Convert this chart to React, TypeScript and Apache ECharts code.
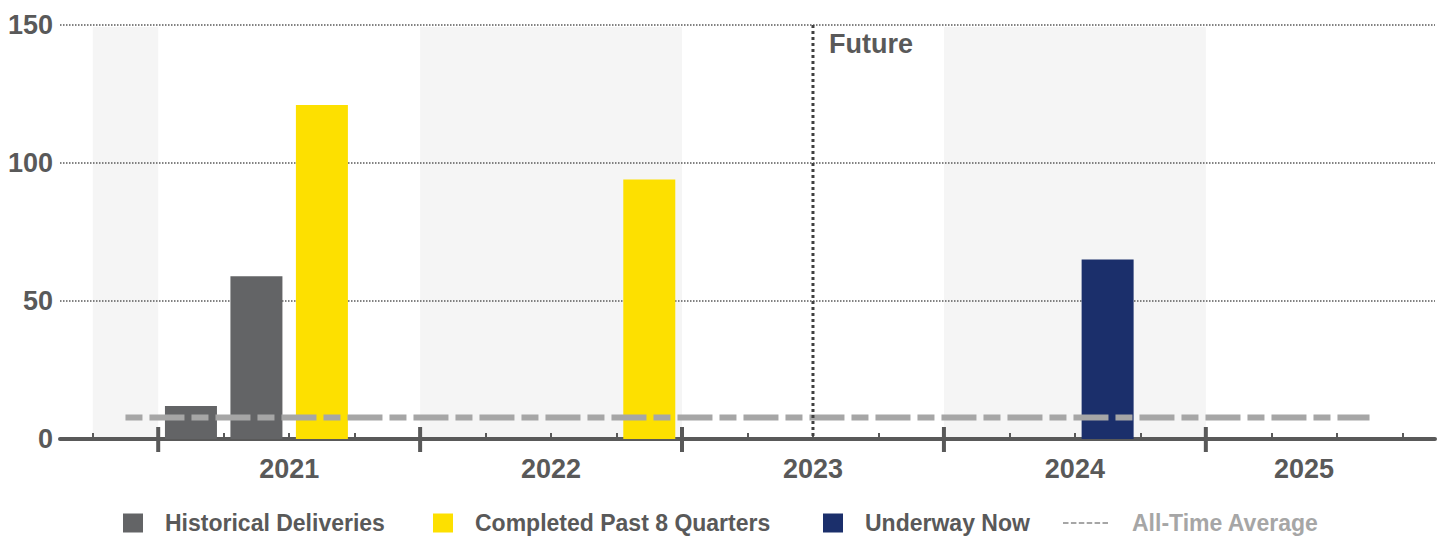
import React, { useEffect, useRef } from 'react';
import * as echarts from 'echarts';

// ---------- DATA ----------
const quarters = [
  '2020 Q4',
  '2021 Q1', '2021 Q2', '2021 Q3', '2021 Q4',
  '2022 Q1', '2022 Q2', '2022 Q3', '2022 Q4',
  '2023 Q1', '2023 Q2', '2023 Q3', '2023 Q4',
  '2024 Q1', '2024 Q2', '2024 Q3', '2024 Q4',
  '2025 Q1', '2025 Q2', '2025 Q3',
];
const historicalDeliveries: (number | null)[] = [
  null, 12, 59, null, null, null, null, null, null, null,
  null, null, null, null, null, null, null, null, null, null,
];
const completedPast8Quarters: (number | null)[] = [
  null, null, null, 121, null, null, null, null, 94, null,
  null, null, null, null, null, null, null, null, null, null,
];
const underwayNow: (number | null)[] = [
  null, null, null, null, null, null, null, null, null, null,
  null, null, null, null, null, 65, null, null, null, null,
];
const allTimeAverage = 7.8;
const labeledYears = ['2021', '2022', '2023', '2024', '2025'];
const shadedYears = ['2020', '2022', '2024'];
const futureStartQuarter = '2023 Q3';
const futureLabel = 'Future';
const yMin = 0;
const yMax = 150;
const yInterval = 50;

const SERIES_NAMES = ['Historical Deliveries', 'Completed Past 8 Quarters', 'Underway Now', 'All-Time Average'];

// ---------- DERIVED ----------
const yearOf = (q: string) => q.slice(0, 4);
const yearSpan = (y: string) => {
  const idx = quarters.map((q, i) => (yearOf(q) === y ? i : -1)).filter((i) => i >= 0);
  return [idx[0], idx[idx.length - 1]];
};
const yearCenters = labeledYears.map((y) => {
  const [a, b] = yearSpan(y);
  return (a + b) / 2;
});
const allYears = Array.from(new Set(quarters.map(yearOf)));
const majorTicks = allYears.slice(1).map((y) => yearSpan(y)[0] - 0.5);
const allBoundaries = quarters.map((_, i) => i - 0.5).concat([quarters.length - 0.5]);
const minorTicks = allBoundaries.filter((b) => !majorTicks.includes(b));
const bands = shadedYears.map((y) => {
  const [a, b] = yearSpan(y);
  return [a - 0.5, b + 0.5];
});
const futureX = quarters.indexOf(futureStartQuarter) - 0.5;

const toPoints = (arr: (number | null)[]) =>
  arr.map((v, i) => (v == null ? null : [i, v])).filter((p) => p !== null) as number[][];

const FONT = '"Liberation Sans", Arial, Helvetica, sans-serif';
const TEXT = '#595959';

const dashIcon =
  'path://M0 0H5.5V2H0Z M7.9 0H13.4V2H7.9Z M15.8 0H21.3V2H15.8Z M23.7 0H29.2V2H23.7Z M31.6 0H37.1V2H31.6Z M39.5 0H45V2H39.5Z';

export default function App() {
  const ref = useRef<HTMLDivElement>(null);

  useEffect(() => {
    if (!ref.current) return;
    const chart = echarts.init(ref.current, undefined, { renderer: 'svg' });

    const legendCommon = {
      top: 511,
      padding: 0,
      itemHeight: 19,
      selectedMode: false,
      textStyle: {
        fontSize: 23,
        lineHeight: 24,
        fontWeight: 'bold',
        color: TEXT,
        fontFamily: FONT,
        padding: [0, 0, 0, 17],
      },
    };

    const option: any = {
      animation: false,
      backgroundColor: '#ffffff',
      grid: { left: 60, right: 10, top: 25, bottom: 98, containLabel: false },
      legend: [
        { ...legendCommon, left: 123, itemWidth: 20, data: [{ name: SERIES_NAMES[0], icon: 'rect' }] },
        { ...legendCommon, left: 433, itemWidth: 20, data: [{ name: SERIES_NAMES[1], icon: 'rect' }] },
        { ...legendCommon, left: 823, itemWidth: 20, data: [{ name: SERIES_NAMES[2], icon: 'rect' }] },
        {
          ...legendCommon,
          left: 1063,
          itemWidth: 45,
          textStyle: { ...legendCommon.textStyle, color: '#a6a6a6', padding: [0, 0, 0, 19] },
          data: [
            {
              name: SERIES_NAMES[3],
              icon: dashIcon,
              itemStyle: { color: '#a6a6a6', borderWidth: 0 },
            },
          ],
        },
      ],
      xAxis: {
        type: 'value',
        min: -1,
        max: quarters.length,
        axisLine: { show: true, onZero: false, lineStyle: { color: TEXT, width: 4 } },
        axisTick: {
          show: true,
          inside: true,
          length: 6,
          lineStyle: { color: TEXT, width: 2 },
          customValues: minorTicks,
        },
        axisLabel: {
          show: true,
          customValues: yearCenters,
          formatter: (v: number) => {
            const i = yearCenters.findIndex((c) => Math.abs(c - v) < 1e-6);
            return i >= 0 ? labeledYears[i] : '';
          },
          fontSize: 27,
          fontWeight: 'bold',
          color: TEXT,
          fontFamily: FONT,
          margin: 16,
        },
        splitLine: { show: false },
      },
      yAxis: {
        type: 'value',
        min: yMin,
        max: yMax,
        interval: yInterval,
        axisLine: { show: false },
        axisTick: { show: false },
        axisLabel: { fontSize: 27, fontWeight: 'bold', color: TEXT, fontFamily: FONT, margin: 7 },
        splitLine: { show: true, lineStyle: { type: 'dotted', color: TEXT, width: 1.5 } },
      },
      series: [
        {
          name: 'bands',
          type: 'custom',
          z: -1,
          silent: true,
          data: bands,
          encode: { x: [0, 1] },
          renderItem: (params: any, api: any) => {
            const p1 = api.coord([api.value(0), yMax]);
            const p2 = api.coord([api.value(1), yMin]);
            return {
              type: 'rect',
              shape: { x: p1[0], y: p1[1] + 2, width: p2[0] - p1[0], height: p2[1] - p1[1] - 2 },
              style: { fill: '#f5f5f5' },
            };
          },
        },
        {
          name: SERIES_NAMES[0],
          type: 'bar',
          stack: 'q',
          barWidth: 52,
          itemStyle: { color: '#636466' },
          data: toPoints(historicalDeliveries),
        },
        {
          name: SERIES_NAMES[1],
          type: 'bar',
          stack: 'q',
          barWidth: 52,
          itemStyle: { color: '#fde000' },
          data: toPoints(completedPast8Quarters),
        },
        {
          name: SERIES_NAMES[2],
          type: 'bar',
          stack: 'q',
          barWidth: 52,
          itemStyle: { color: '#1b2f6b' },
          data: toPoints(underwayNow),
        },
        {
          name: SERIES_NAMES[3],
          type: 'line',
          z: 5,
          symbol: 'none',
          color: '#a6a6a6',
          lineStyle: { color: '#a6a6a6', width: 6, type: [17, 7, 35, 7] },
          data: quarters.map((_, i) => [i, allTimeAverage]),
        },
        {
          name: 'majorTicks',
          type: 'custom',
          z: 6,
          silent: true,
          data: majorTicks.map((v) => [v, 0]),
          renderItem: (params: any, api: any) => {
            const p = api.coord([api.value(0), yMin]);
            return {
              type: 'line',
              shape: { x1: p[0], y1: p[1] - 12, x2: p[0], y2: p[1] + 13 },
              style: { stroke: TEXT, lineWidth: 4 },
            };
          },
        },
        {
          name: 'future',
          type: 'custom',
          z: 6,
          silent: true,
          data: [[futureX, yMax]],
          renderItem: (params: any, api: any) => {
            const top = api.coord([api.value(0), yMax]);
            const bottom = api.coord([api.value(0), yMin]);
            return {
              type: 'group',
              children: [
                {
                  type: 'line',
                  shape: { x1: top[0], y1: top[1], x2: bottom[0], y2: bottom[1] },
                  style: { stroke: '#404040', lineWidth: 3, lineDash: [3, 3] },
                },
                {
                  type: 'text',
                  x: top[0] + 16,
                  y: top[1] + 19,
                  style: {
                    text: futureLabel,
                    fill: TEXT,
                    fontSize: 27,
                    fontWeight: 'bold',
                    fontFamily: FONT,
                    align: 'left',
                    verticalAlign: 'middle',
                  },
                },
              ],
            };
          },
        },
      ],
    };

    chart.setOption(option);
    return () => chart.dispose();
  }, []);

  return (
    <div
      ref={ref}
      style={{ position: 'fixed', left: 0, top: 0, width: 1445, height: 537, background: '#fff' }}
    />
  );
}
